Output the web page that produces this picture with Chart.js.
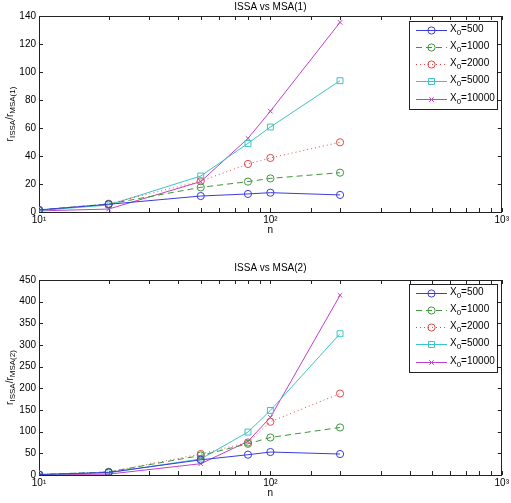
<!DOCTYPE html>
<html>
<head>
<meta charset="utf-8">
<script src="https://cdn.jsdelivr.net/npm/chart.js@4"></script>
<style>
  body { margin: 0; background: #fff; }
  canvas { position: absolute; left: 0; }
</style>
</head>
<body>
<canvas id="top" width="511" height="250" style="top:0"></canvas>
<canvas id="bottom" width="511" height="253" style="top:250px"></canvas>
<script>
// === DATA ===
const nValues = [10, 20, 50, 80, 100, 200];
const legendLabels = ["500", "1000", "2000", "5000", "10000"];

// ISSA vs MSA(1)
const msa1_x500   = [1.5, 5.5, 11.4, 12.9, 13.8, 12.2];
const msa1_x1000  = [1.5, 5.7, 17.6, 21.7, 24.0, 28.1];
const msa1_x2000  = [1.2, 5.9, 22.0, 34.3, 38.6, 49.8];
const msa1_x5000  = [1.0, 5.0, 25.7, 49.0, 60.7, 93.8];
const msa1_x10000 = [0.8, 2.1, 21.7, 52.6, 72.0, 135.5];

// ISSA vs MSA(2)
const msa2_x500   = [1, 6, 35, 46.8, 53, 48.4];
const msa2_x1000  = [1, 7, 45, 72, 86.6, 109.7];
const msa2_x2000  = [1, 7, 48.4, 75, 122.8, 188];
const msa2_x5000  = [1, 5, 37, 99, 149, 326];
const msa2_x10000 = [0.5, 2, 26, 77.5, 133, 414.7];

const xTickLabels = { 10: "10¹", 100: "10²", 1000: "10³" };

// MATLAB-ish line specs
const styles = [
  { color: "#3c3cdc", dash: [],     point: "circle",   r: 3.6 },
  { color: "#3f963f", dash: [6, 4], point: "circle",   r: 3.6 },
  { color: "#e04a4a", dash: [1, 3], point: "circle",   r: 3.6 },
  { color: "#3cc4c4", dash: [],     point: "rect",     r: 4.2 },
  { color: "#c040c8", dash: [],     point: "crossRot", r: 3.2 }
];

const FONT = "Liberation Sans, Arial, Helvetica, sans-serif";

function makeDatasets(series) {
  return series.map((vals, i) => ({
    label: "X0=" + legendLabels[i],
    data: nValues.map((n, k) => ({ x: n, y: vals[k] })),
    borderColor: styles[i].color,
    backgroundColor: "rgba(0,0,0,0)",
    borderWidth: 1,
    borderDash: styles[i].dash,
    pointStyle: styles[i].point,
    pointRadius: styles[i].r,
    pointBorderColor: styles[i].color,
    pointBackgroundColor: "rgba(0,0,0,0)",
    pointBorderWidth: 1,
    tension: 0,
    fill: false
  }));
}

// draws text made of [text, sub?] pieces, centred on x
function pieceWidth(ctx, pieces) {
  let w = 0;
  pieces.forEach(p => {
    ctx.font = (p[1] ? "8px " : "10px ") + FONT;
    w += ctx.measureText(p[0]).width;
  });
  return w;
}
function drawPieces(ctx, pieces, x, y) {
  pieces.forEach(p => {
    ctx.font = (p[1] ? "8px " : "10px ") + FONT;
    ctx.fillText(p[0], x, y + (p[1] ? 3 : 0));
    x += ctx.measureText(p[0]).width;
  });
}

// MATLAB style frame, inward ticks, title, labels and legend
const matlabPlugin = {
  id: "matlab",
  beforeDatasetsDraw(chart, args, opts) {
    const { ctx, chartArea: a, scales } = chart;
    ctx.save();
    ctx.strokeStyle = "#222";
    ctx.lineWidth = 1;
    ctx.strokeRect(Math.round(a.left) + 0.5, Math.round(a.top) + 0.5,
      Math.round(a.right - a.left) - 1, Math.round(a.bottom - a.top));
    ctx.beginPath();
    scales.x.ticks.forEach(t => {
      const px = Math.round(scales.x.getPixelForValue(t.value)) + 0.5;
      ctx.moveTo(px, a.bottom); ctx.lineTo(px, a.bottom - 4);
      ctx.moveTo(px, a.top); ctx.lineTo(px, a.top + 4);
    });
    scales.y.ticks.forEach(t => {
      const py = Math.round(scales.y.getPixelForValue(t.value)) + 0.5;
      ctx.moveTo(a.left, py); ctx.lineTo(a.left + 4, py);
      ctx.moveTo(a.right, py); ctx.lineTo(a.right - 4, py);
    });
    ctx.stroke();
    ctx.restore();
  },
  afterDraw(chart, args, opts) {
    const { ctx, chartArea: a } = chart;
    const cx = (a.left + a.right) / 2;
    ctx.save();
    ctx.fillStyle = "#000";
    ctx.textBaseline = "middle";
    // title
    ctx.font = "10px " + FONT;
    ctx.textAlign = "center";
    ctx.fillText(opts.title, cx, a.top - opts.titleGap);
    // x label
    ctx.fillText("n", cx, a.bottom + 18);
    // y label, rotated
    ctx.textAlign = "left";
    const yl = [["r"], ["ISSA", 1], ["/r"], [opts.ysub, 1]];
    const w = pieceWidth(ctx, yl);
    ctx.translate(12, (a.top + a.bottom) / 2);
    ctx.rotate(-Math.PI / 2);
    drawPieces(ctx, yl, -w / 2, -2);
    ctx.restore();

    // legend
    const L = opts.legend;
    ctx.save();
    ctx.fillStyle = "#fff";
    ctx.fillRect(L.x, L.y, L.w, L.h);
    ctx.strokeStyle = "#222";
    ctx.lineWidth = 1;
    ctx.strokeRect(L.x + 0.5, L.y + 0.5, L.w, L.h);
    chart.data.datasets.forEach((ds, i) => {
      const ry = L.y + 8.5 + i * 17.3;
      const yy = Math.round(ry) + 0.5;
      ctx.strokeStyle = ds.borderColor;
      ctx.setLineDash(ds.borderDash);
      ctx.beginPath();
      ctx.moveTo(L.x + 7, yy); ctx.lineTo(L.x + 38, yy);
      ctx.stroke();
      ctx.setLineDash([]);
      const mx = L.x + 22.5, r = ds.pointRadius;
      ctx.beginPath();
      if (ds.pointStyle === "circle") {
        ctx.arc(mx, yy, r, 0, Math.PI * 2);
      } else if (ds.pointStyle === "rect") {
        const s = r * Math.SQRT1_2;
        ctx.rect(mx - s, yy - s, 2 * s, 2 * s);
      } else {
        const s = r * Math.SQRT1_2;
        ctx.moveTo(mx - s, yy - s); ctx.lineTo(mx + s, yy + s);
        ctx.moveTo(mx - s, yy + s); ctx.lineTo(mx + s, yy - s);
      }
      ctx.stroke();
      ctx.fillStyle = "#000";
      ctx.textAlign = "left";
      ctx.textBaseline = "middle";
      drawPieces(ctx, [["X"], ["0", 1], ["=" + legendLabels[i]]], L.x + 41, yy - 1);
    });
    ctx.restore();
  }
};

function makeChart(id, series, yMax, yStep, padTop, xAxisH, title, ysub, titleGap, legend) {
  return new Chart(document.getElementById(id), {
    type: "line",
    data: { datasets: makeDatasets(series) },
    options: {
      responsive: false,
      animation: false,
      devicePixelRatio: 1,
      layout: { padding: { left: 0, right: 9, top: padTop, bottom: 0 } },
      plugins: {
        legend: { display: false },
        tooltip: { enabled: false },
        matlab: { title: title, ysub: ysub, titleGap: titleGap, legend: legend }
      },
      scales: {
        x: {
          type: "logarithmic",
          min: 10,
          max: 1000,
          grid: { display: false, drawTicks: false },
          border: { display: false },
          ticks: {
            autoSkip: false,
            maxRotation: 0,
            padding: 2,
            color: "#000",
            font: { family: FONT, size: 10 },
            callback: (v) => xTickLabels[v] || ""
          },
          afterFit: (s) => { s.height = xAxisH; }
        },
        y: {
          min: 0,
          max: yMax,
          grid: { display: false, drawTicks: false },
          border: { display: false },
          ticks: {
            stepSize: yStep,
            padding: 3,
            color: "#000",
            font: { family: FONT, size: 10 }
          },
          afterFit: (s) => { s.width = 39; }
        }
      }
    },
    plugins: [matlabPlugin]
  });
}

// === CHART 1: ISSA vs MSA(1) ===
makeChart("top",
  [msa1_x500, msa1_x1000, msa1_x2000, msa1_x5000, msa1_x10000],
  140, 20, 16, 38, "ISSA vs MSA(1)", "MSA(1)", 9,
  { x: 409, y: 21, w: 88, h: 88 });

// === CHART 2: ISSA vs MSA(2) ===
makeChart("bottom",
  [msa2_x500, msa2_x1000, msa2_x2000, msa2_x5000, msa2_x10000],
  450, 50, 30, 28, "ISSA vs MSA(2)", "MSA(2)", 12,
  { x: 409, y: 34, w: 88, h: 88 });
</script>
</body>
</html>
